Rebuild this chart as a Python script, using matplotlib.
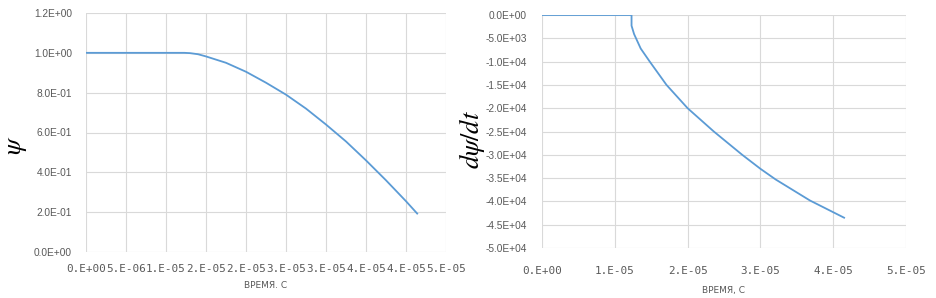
import numpy as np
import matplotlib
matplotlib.use("Agg")
import matplotlib.pyplot as plt

# psi(t)
t_psi = [0, 1.23e-5, 1.3e-5, 1.4e-5, 1.5e-5, 1.75e-5, 2.0e-5, 2.25e-5, 2.5e-5,
         2.75e-5, 3.0e-5, 3.25e-5, 3.5e-5, 3.75e-5, 4.0e-5, 4.14e-5]
psi = [1.0, 1.0, 0.9985, 0.993, 0.982, 0.95, 0.905, 0.85, 0.79,
       0.72, 0.64, 0.555, 0.46, 0.36, 0.255, 0.193]

# d(psi)/dt
t_dpsi = [0, 1.23e-5, 1.23e-5, 1.265e-5, 1.356e-5, 1.48e-5, 1.71e-5, 2.0e-5, 2.18e-5,
          2.36e-5, 2.75e-5, 3.0e-5, 3.21e-5, 3.68e-5, 4.15e-5]
dpsi = [0, 0, -2.3e3, -4.1e3, -7.2e3, -1.0e4, -1.5e4, -2.0e4, -2.25e4,
        -2.5e4, -3.0e4, -3.3e4, -3.53e4, -3.98e4, -4.35e4]

left_xticks = np.arange(0, 4.51e-5, 5e-6)
left_xlabels = ["0.E+00", "5.E-06", "1.E-05", "2.E-05", "2.E-05",
                "3.E-05", "3.E-05", "4.E-05", "4.E-05", "5.E-05"]
left_yticks = [0, 0.2, 0.4, 0.6, 0.8, 1.0, 1.2]
left_ylabels = ["0.0E+00", "2.0E-01", "4.0E-01", "6.0E-01", "8.0E-01", "1.0E+00", "1.2E+00"]

right_xticks = [0, 1e-5, 2e-5, 3e-5, 4e-5, 5e-5]
right_xlabels = ["0.E+00", "1.E-05", "2.E-05", "3.E-05", "4.E-05", "5.E-05"]
right_yticks = np.arange(-5e4, 1, 5e3)
right_ylabels = ["-5.0E+04", "-4.5E+04", "-4.0E+04", "-3.5E+04", "-3.0E+04", "-2.5E+04",
                 "-2.0E+04", "-1.5E+04", "-1.0E+04", "-5.0E+03", "0.0E+00"]

plt.rcParams['mathtext.fontset'] = 'stix'
line_col = "#5B9BD5"
grid_col = "#D9D9D9"
text_col = "#595959"

fig = plt.figure(figsize=(9.36, 2.98), dpi=100)
ax1 = fig.add_axes([86/936, 46/298, 360/936, 239/298])
ax2 = fig.add_axes([542/936, 50/298, 364/936, 233/298])


def style(ax, xt, xl, yt, yl, xpad, ypad):
    ax.set_xticks(xt)
    ax.set_xticklabels(xl, family="DejaVu Sans Mono", fontsize=7.9, color=text_col)
    ax.set_yticks(yt)
    ax.set_yticklabels(yl, family="Liberation Sans", fontsize=7.3, color=text_col)
    ax.tick_params(axis="x", length=0, pad=xpad)
    ax.tick_params(axis="y", length=0, pad=ypad)
    for s in ax.spines.values():
        s.set_visible(False)
    ax.grid(True, color=grid_col, linewidth=0.8)
    ax.set_axisbelow(True)


ax1.plot(t_psi, psi, color=line_col, linewidth=1.3)
ax1.set_xlim(0, 4.5e-5)
ax1.set_ylim(0, 1.2)
style(ax1, left_xticks, left_xlabels, left_yticks, left_ylabels, 9, 10)
ax1.set_xlabel("ВРЕМЯ. С", fontsize=6.5, color=text_col, labelpad=5)

ax2.plot(t_dpsi, dpsi, color=line_col, linewidth=1.3)
ax2.set_xlim(0, 5e-5)
ax2.set_ylim(-5e4, 0)
style(ax2, right_xticks, right_xlabels, right_yticks, right_ylabels, 13, 11)
ax2.set_xlabel("ВРЕМЯ, С", fontsize=6.5, color=text_col, labelpad=7)

# y-axis titles placed by pixel position
fig.text(16/936, 1 - 145/298, r"$\psi$", fontsize=19, rotation=90, ha="center", va="center")
fig.text(472/936, 1 - 140/298, r"$d\psi/dt$", fontsize=19, rotation=90, ha="center", va="center")

fig.savefig("out.png", dpi=100)
